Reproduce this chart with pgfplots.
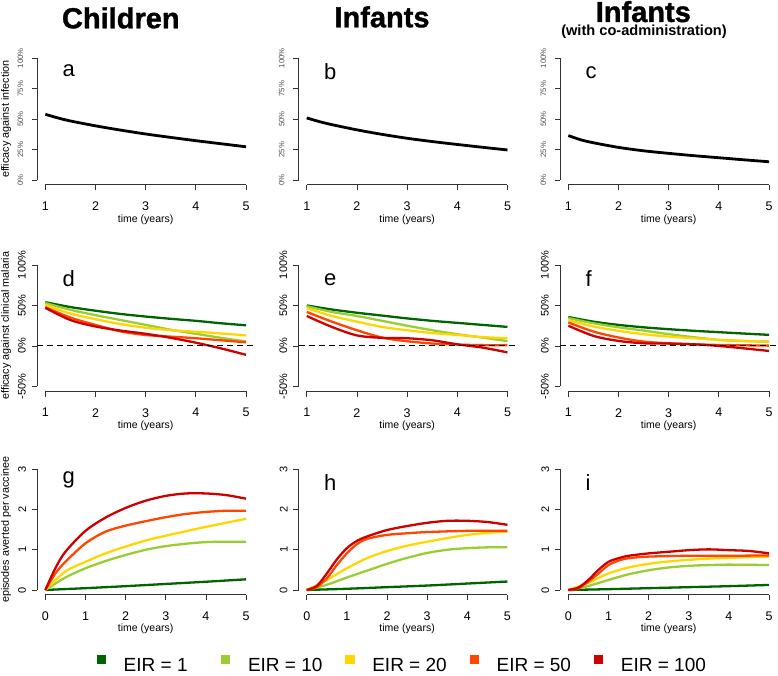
\documentclass[border=0pt]{standalone}
\usepackage{fontspec}
\setmainfont{Liberation Sans}
\newfontfamily\titlefont[FakeBold=1.2]{Liberation Sans Bold}
\usepackage{pgfplots}
\pgfplotsset{compat=1.18}

\definecolor{eir1}{HTML}{006400}
\definecolor{eir10}{HTML}{9ACD32}
\definecolor{eir20}{HTML}{FFD700}
\definecolor{eir50}{HTML}{FF4500}
\definecolor{eir100}{HTML}{CD0000}
\definecolor{axgray}{HTML}{333333}

\pgfplotsset{
  panel/.style={
    scale only axis, width=216.8pt, clip=false,
    axis lines=left, axis line style={draw=none},
    tick align=outside, major tick length=5.5pt,
    tick style={axgray, line width=0.8pt},
    xticklabel style={font=\fontsize{12.5}{14}\selectfont, inner sep=0pt},
    xticklabel shift=11.3pt,
    yticklabels={},
    xlabel={time (years)},
    xlabel style={at={(axis description cs:0.5,-0.262)}, anchor=center, font=\fontsize{10.5}{12}\selectfont},
    ylabel style={at={(axis description cs:-0.1444,0.5)}, anchor=center, font=\fontsize{10.8}{12}\selectfont},
  },
  toprow/.style={panel, height=131.5pt, xmin=0.84, xmax=5.16, ymin=-4, ymax=104,
    xtick={1,2,3,4,5}, xticklabels={1,2,3,4,5}, ytick={0,25,50,75,100}},
  midrow/.style={panel, height=131.2pt, xmin=0.84, xmax=5.16, ymin=-56, ymax=106,
    xtick={1,2,3,4,5}, xticklabels={1,2,3,4,5}, ytick={-50,0,50,100}},
  botrow/.style={panel, height=130.3pt, xmin=-0.2, xmax=5.2, ymin=-0.12, ymax=3.12,
    xtick={0,1,2,3,4,5}, xticklabels={0,1,2,3,4,5}, ytick={0,1,2,3}},
}
\tikzset{
  ylab/.style={rotate=90, anchor=south, inner sep=0pt, font=\fontsize{11}{13}\selectfont},
  ylabsmall/.style={rotate=90, anchor=south, inner sep=0pt, font=\fontsize{7.8}{9}\selectfont, text=black!70},
}
\newcommand{\raxes}[6]{%
  \draw[axgray, line width=0.8pt] (axis cs:#1,#3) -- (axis cs:#2,#3);
  \draw[axgray, line width=0.8pt] (axis cs:#6,#4) -- (axis cs:#6,#5);}
% rotated y tick labels, R style
\newcommand{\ylabstop}{%
  \node[ylabsmall] at ([xshift=-14pt]axis cs:0.84,0) {0\%};
  \node[ylabsmall] at ([xshift=-14pt]axis cs:0.84,25) {25\%};
  \node[ylabsmall] at ([xshift=-14pt]axis cs:0.84,50) {50\%};
  \node[ylabsmall] at ([xshift=-14pt]axis cs:0.84,75) {75\%};
  \node[ylabsmall] at ([xshift=-14pt]axis cs:0.84,100) {100\%};}
\newcommand{\ylabsmid}{%
  \node[ylab] at ([xshift=-11.3pt]axis cs:0.84,-50) {-50\%};
  \node[ylab] at ([xshift=-11.3pt]axis cs:0.84,0) {0\%};
  \node[ylab] at ([xshift=-11.3pt]axis cs:0.84,50) {50\%};
  \node[ylab] at ([xshift=-11.3pt]axis cs:0.84,100) {100\%};}
\newcommand{\ylabsbot}{%
  \node[ylab] at ([xshift=-11pt]axis cs:-0.2,0) {0};
  \node[ylab] at ([xshift=-11pt]axis cs:-0.2,1) {1};
  \node[ylab] at ([xshift=-11pt]axis cs:-0.2,2) {2};
  \node[ylab] at ([xshift=-11pt]axis cs:-0.2,3) {3};}
\newcommand{\plabel}[3]{\node[anchor=base west, font=\fontsize{22}{24}\selectfont] at (axis description cs:#1,#2) {#3};}
\newcommand{\zeroline}{\addplot[black, line width=1.1pt, dash pattern=on 6pt off 4pt, forget plot] coordinates {(0.84,0) (5.16,0)};}

\begin{document}
\begin{tikzpicture}
\path[use as bounding box] (0,0) rectangle (778pt,675pt);

% ---------- top row: efficacy against infection ----------
\begin{axis}[toprow, at={(37.3pt,490.1pt)}, anchor=south west, ylabel={efficacy against infection}]
  \raxes{1}{5}{-4}{0}{100}{0.84}
  \ylabstop
  \addplot[black, line width=2.8pt, smooth] coordinates {(1,54) (1.25,51) (1.5,48.5) (2,44.5) (2.5,41) (3,37.8) (3.5,35) (4,32.3) (4.5,29.8) (5,27.3)};
  \plabel{0.101}{0.823}{a}
\end{axis}

\begin{axis}[toprow, at={(298.7pt,490.1pt)}, anchor=south west]
  \raxes{1}{5}{-4}{0}{100}{0.84}
  \ylabstop
  \addplot[black, line width=2.8pt, smooth] coordinates {(1,51) (1.25,48) (1.5,45.5) (2,41.2) (2.5,37.5) (3,34.3) (3.5,31.6) (4,29.2) (4.5,26.9) (5,24.7)};
  \plabel{0.101}{0.798}{b}
\end{axis}

\begin{axis}[toprow, at={(560.3pt,490.1pt)}, anchor=south west]
  \raxes{1}{5}{-4}{0}{100}{0.84}
  \ylabstop
  \addplot[black, line width=2.8pt, smooth] coordinates {(1,36.5) (1.25,33) (1.5,30.6) (2,26.8) (2.5,24) (3,21.9) (3.5,20) (4,18.3) (4.5,16.6) (5,15)};
  \plabel{0.101}{0.811}{c}
\end{axis}

% ---------- middle row: efficacy against clinical malaria ----------
\begin{axis}[midrow, at={(37.3pt,283.7pt)}, anchor=south west, ylabel={efficacy against clinical malaria}]
  \raxes{1}{5}{-56}{-50}{100}{0.84}
  \ylabsmid
  \addplot[eir1, line width=2.3pt, smooth] coordinates {(1,54) (1.5,48) (2,43.5) (2.5,39.5) (3,36.3) (3.5,33.5) (4,31) (4.5,28) (5,25.5)};
  \addplot[eir10, line width=2.3pt, smooth] coordinates {(1,53) (1.5,44.6) (2,38) (2.5,32) (3,26) (3.5,20) (4,15) (4.5,10) (5,5.5)};
  \addplot[eir20, line width=2.3pt, smooth] coordinates {(1,51) (1.5,40) (2,33) (2.5,27) (3,22.5) (3.5,19.5) (4,17.5) (4.5,15.4) (5,13)};
  \addplot[eir50, line width=2.3pt, smooth] coordinates {(1,48) (1.5,35) (2,26) (2.5,18) (3,13.5) (3.5,11.5) (4,9.5) (4.5,7) (5,4.5)};
  \addplot[eir100, line width=2.3pt, smooth] coordinates {(1,47) (1.5,32) (2,24) (2.5,19) (3,15) (3.5,10) (4,4) (4.5,-3) (5,-11)};
  \zeroline
  \plabel{0.101}{0.797}{d}
\end{axis}

\begin{axis}[midrow, at={(298.7pt,283.7pt)}, anchor=south west]
  \raxes{1}{5}{-56}{-50}{100}{0.84}
  \ylabsmid
  \addplot[eir1, line width=2.3pt, smooth] coordinates {(1,50) (1.5,45) (2,41) (2.5,37.5) (3,34) (3.5,31) (4,28.5) (4.5,26) (5,23.5)};
  \addplot[eir10, line width=2.3pt, smooth] coordinates {(1,49) (1.5,42) (2,37) (2.5,31) (3,25) (3.5,19.4) (4,14.5) (4.5,10.3) (5,6)};
  \addplot[eir20, line width=2.3pt, smooth] coordinates {(1,46.7) (1.5,37) (2,30) (2.5,23.5) (3,19.4) (3.5,16) (4,13.6) (4.5,11) (5,9.5)};
  \addplot[eir50, line width=2.3pt, smooth] coordinates {(1,42) (1.5,30) (2,19.4) (2.5,10.3) (3,5.8) (3.5,3) (4,1.7) (4.5,1) (5,1)};
  \addplot[eir100, line width=2.3pt, smooth] coordinates {(1,37) (1.5,23.5) (2,13) (2.5,10) (3,9.5) (3.5,7) (4,2) (4.5,-2) (5,-8)};
  \zeroline
  \plabel{0.101}{0.810}{e}
\end{axis}

\begin{axis}[midrow, at={(560.3pt,283.7pt)}, anchor=south west]
  \raxes{1}{5}{-56}{-50}{100}{0.84}
  \ylabsmid
  \addplot[eir1, line width=2.3pt, smooth] coordinates {(1,35.7) (1.5,30) (2,26) (2.5,23) (3,20.7) (3.5,18.7) (4,17) (4.5,15.3) (5,13.7)};
  \addplot[eir10, line width=2.3pt, smooth] coordinates {(1,34.4) (1.5,28) (2,23) (2.5,19) (3,14.5) (3.5,10.8) (4,7.5) (4.5,6) (5,5.4)};
  \addplot[eir20, line width=2.3pt, smooth] coordinates {(1,32) (1.5,24) (2,18.7) (2.5,14.5) (3,11.6) (3.5,9.5) (4,7.5) (4.5,6.2) (5,5.4)};
  \addplot[eir50, line width=2.3pt, smooth] coordinates {(1,29) (1.5,17.8) (2,10.4) (2.5,5.4) (3,3.3) (3.5,2) (4,1.2) (4.5,0.8) (5,0.4)};
  \addplot[eir100, line width=2.3pt, smooth] coordinates {(1,25) (1.5,12.4) (2,6.2) (2.5,3.3) (3,2.9) (3.5,2) (4,0) (4.5,-3) (5,-6.2)};
  \zeroline
  \plabel{0.101}{0.797}{f}
\end{axis}

% ---------- bottom row: episodes averted per vaccinee ----------
\begin{axis}[botrow, at={(37.3pt,80.2pt)}, anchor=south west, ylabel={episodes averted per vaccinee}]
  \raxes{0}{5}{-0.12}{0}{3}{-0.2}
  \ylabsbot
  \addplot[eir1, line width=2.3pt, smooth] coordinates {(0,0) (1,0.045) (2,0.095) (3,0.15) (4,0.205) (5,0.265)};
  \addplot[eir10, line width=2.3pt, smooth] coordinates {(0,0) (0.5,0.31) (1,0.54) (1.5,0.72) (2,0.87) (2.5,1.0) (3,1.09) (3.5,1.15) (4,1.19) (4.5,1.2) (5,1.2)};
  \addplot[eir20, line width=2.3pt, smooth] coordinates {(0,0) (0.5,0.46) (1,0.70) (1.5,0.91) (2,1.08) (2.5,1.23) (3,1.35) (3.5,1.46) (4,1.57) (4.5,1.67) (5,1.77)};
  \addplot[eir50, line width=2.3pt, smooth] coordinates {(0,0) (0.25,0.41) (0.5,0.70) (1,1.16) (1.5,1.45) (2,1.6) (2.5,1.71) (3,1.81) (3.5,1.89) (4,1.94) (4.5,1.97) (5,1.97)};
  \addplot[eir100, line width=2.3pt, smooth] coordinates {(0,0) (0.25,0.54) (0.5,0.95) (1,1.47) (1.5,1.8) (2,2.04) (2.5,2.22) (3,2.34) (3.5,2.40) (4,2.40) (4.5,2.36) (5,2.27)};
  \plabel{0.101}{0.856}{g}
\end{axis}

\begin{axis}[botrow, at={(298.7pt,80.2pt)}, anchor=south west,
  legend columns=5,
  legend cell align=left,
  legend image code/.code={\fill (0pt,3.3pt) rectangle (7pt,10.3pt);},
  legend style={at={(-0.9317,-0.531)}, anchor=west, draw=none, fill=none,
    inner sep=0pt, outer sep=0pt, column sep=0pt, nodes={inner sep=0pt},
    font=\fontsize{19}{21}\selectfont,
    /tikz/every odd column/.append style={column sep=17.7pt}}]
  \raxes{0}{5}{-0.12}{0}{3}{-0.2}
  \ylabsbot
  \addplot[eir1, line width=2.3pt, smooth] coordinates {(0,0) (1,0.03) (2,0.07) (3,0.11) (4,0.16) (5,0.21)};
  \addlegendentry{\makebox[97.3pt][l]{EIR = 1}}
  \addplot[eir10, line width=2.3pt, smooth] coordinates {(0,0) (0.5,0.13) (1,0.31) (1.5,0.48) (2,0.65) (2.5,0.8) (3,0.92) (3.5,1.0) (4,1.04) (4.5,1.06) (5,1.06)};
  \addlegendentry{\makebox[97.3pt][l]{EIR = 10}}
  \addplot[eir20, line width=2.3pt, smooth] coordinates {(0,0) (0.5,0.25) (1,0.54) (1.5,0.79) (2,0.97) (2.5,1.1) (3,1.2) (3.5,1.29) (4,1.37) (4.5,1.42) (5,1.45)};
  \addlegendentry{\makebox[97.3pt][l]{EIR = 20}}
  \addplot[eir50, line width=2.3pt, smooth] coordinates {(0,0) (0.25,0.07) (0.5,0.29) (0.75,0.62) (1,0.91) (1.25,1.14) (1.5,1.27) (2,1.37) (2.5,1.41) (3,1.44) (4,1.47) (5,1.47)};
  \addlegendentry{\makebox[97.3pt][l]{EIR = 50}}
  \addplot[eir100, line width=2.3pt, smooth] coordinates {(0,0) (0.25,0.1) (0.5,0.41) (0.75,0.76) (1,1.04) (1.25,1.22) (1.5,1.33) (2,1.49) (2.5,1.59) (3,1.67) (3.5,1.72) (4,1.72) (4.5,1.69) (5,1.62)};
  \addlegendentry{EIR = 100}
  \plabel{0.101}{0.799}{h}
\end{axis}

\begin{axis}[botrow, at={(560.3pt,80.2pt)}, anchor=south west]
  \raxes{0}{5}{-0.12}{0}{3}{-0.2}
  \ylabsbot
  \addplot[eir1, line width=2.3pt, smooth] coordinates {(0,0) (1,0.02) (2,0.045) (3,0.07) (4,0.095) (5,0.125)};
  \addplot[eir10, line width=2.3pt, smooth] coordinates {(0,0) (0.5,0.1) (1,0.25) (1.5,0.39) (2,0.49) (2.5,0.56) (3,0.6) (3.5,0.62) (4,0.63) (5,0.62)};
  \addplot[eir20, line width=2.3pt, smooth] coordinates {(0,0) (0.5,0.18) (1,0.41) (1.5,0.56) (2,0.65) (2.5,0.71) (3,0.75) (3.5,0.78) (4,0.8) (5,0.83)};
  \addplot[eir50, line width=2.3pt, smooth] coordinates {(0,0) (0.25,0.04) (0.5,0.21) (0.75,0.41) (1,0.62) (1.25,0.73) (1.5,0.79) (2,0.83) (3,0.85) (4,0.85) (5,0.86)};
  \addplot[eir100, line width=2.3pt, smooth] coordinates {(0,0) (0.25,0.06) (0.5,0.25) (0.75,0.5) (1,0.7) (1.25,0.79) (1.5,0.85) (2,0.91) (2.5,0.95) (3,0.99) (3.5,1.01) (4,0.99) (4.5,0.97) (5,0.91)};
  \plabel{0.101}{0.803}{i}
\end{axis}

% ---------- column titles ----------
\node[anchor=base, font=\fontsize{29}{32}\selectfont\titlefont] at (120.8pt,646.7pt) {Children};
\node[anchor=base, font=\fontsize{29}{32}\selectfont\titlefont] at (382pt,647.7pt) {Infants};
\node[anchor=base, font=\fontsize{29}{32}\selectfont\titlefont, inner sep=0pt] at (643.3pt,653pt) {Infants};
\node[anchor=base, font=\fontsize{14.6}{16}\selectfont\bfseries, inner sep=0pt] at (644pt,639.6pt) {(with co-administration)};
\end{tikzpicture}
\end{document}
